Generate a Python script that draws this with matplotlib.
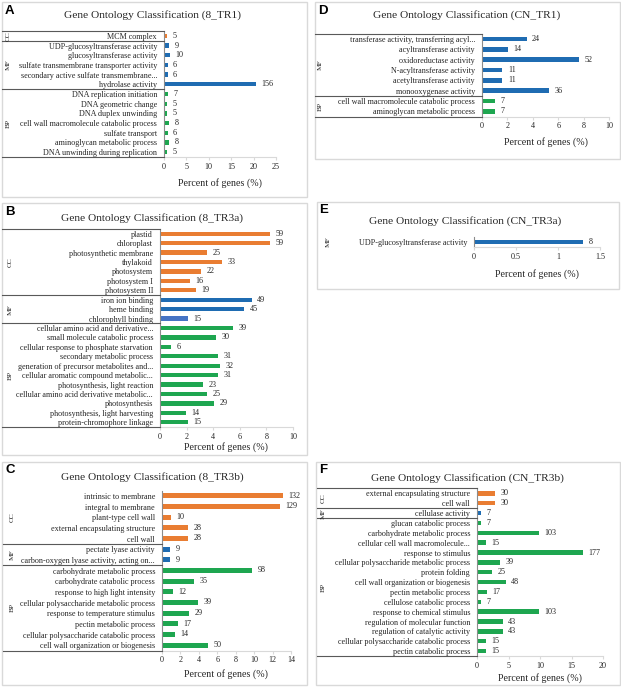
import numpy as np
import matplotlib
matplotlib.use("Agg")
import matplotlib.pyplot as plt
from matplotlib.patches import Rectangle
from matplotlib.lines import Line2D
from matplotlib import transforms

# ---------------- DATA ----------------
A_cats = ["MCM complex", "UDP-glucosyltransferase activity", "glucosyltransferase activity",
          "sulfate transmembrane transporter activity", "secondary active sulfate transmembrane...",
          "hydrolase activity", "DNA replication initiation", "DNA geometric change",
          "DNA duplex unwinding", "cell wall macromolecule catabolic process", "sulfate transport",
          "aminoglycan metabolic process", "DNA unwinding during replication"]
A_vals = [0.66, 1.18, 1.31, 0.79, 0.79, 20.5, 0.92, 0.66, 0.66, 1.05, 0.79, 1.05, 0.66]
A_counts = [5, 9, 10, 6, 6, 156, 7, 5, 5, 8, 6, 8, 5]
A_groups = [("CC", 1), ("MF", 5), ("BP", 7)]

B_cats = ["plastid", "chloroplast", "photosynthetic membrane", "thylakoid", "photosystem",
          "photosystem I", "photosystem II", "iron ion binding", "heme binding", "chlorophyll binding",
          "cellular amino acid and derivative...", "small molecule catabolic process",
          "cellular response to phosphate starvation", "secondary metabolic process",
          "generation of precursor metabolites and...", "cellular aromatic compound metabolic...",
          "photosynthesis, light reaction", "cellular amino acid derivative metabolic...",
          "photosynthesis", "photosynthesis, light harvesting", "protein-chromophore linkage"]
B_vals = [8.30, 8.30, 3.52, 4.64, 3.09, 2.25, 2.67, 6.89, 6.33, 2.11, 5.49, 4.22, 0.84, 4.36,
          4.50, 4.36, 3.23, 3.52, 4.08, 1.97, 2.11]
B_counts = [59, 59, 25, 33, 22, 16, 19, 49, 45, 15, 39, 30, 6, 31, 32, 31, 23, 25, 29, 14, 15]
B_groups = [("CC", 7), ("MF", 3), ("BP", 11)]

C_cats = ["intrinsic to membrane", "integral to membrane", "plant-type cell wall",
          "external encapsulating structure", "cell wall", "pectate lyase activity",
          "carbon-oxygen lyase activity, acting on...", "carbohydrate metabolic process",
          "carbohydrate catabolic process", "response to high light intensity",
          "cellular polysaccharide metabolic process", "response to temperature stimulus",
          "pectin metabolic process", "cellular polysaccharide catabolic process",
          "cell wall organization or biogenesis"]
C_vals = [13.1, 12.8, 1.0, 2.79, 2.79, 0.9, 0.9, 9.75, 3.48, 1.19, 3.88, 2.89, 1.69, 1.39, 4.98]
C_counts = [132, 129, 10, 28, 28, 9, 9, 98, 35, 12, 39, 29, 17, 14, 50]
C_groups = [("CC", 5), ("MF", 2), ("BP", 8)]

D_cats = ["transferase activity, transferring acyl...", "acyltransferase activity",
          "oxidoreductase activity", "N-acyltransferase activity", "acetyltransferase activity",
          "monooxygenase activity", "cell wall macromolecule catabolic process",
          "aminoglycan metabolic process"]
D_vals = [3.51, 2.05, 7.60, 1.61, 1.61, 5.26, 1.02, 1.02]
D_counts = [24, 14, 52, 11, 11, 36, 7, 7]
D_groups = [("MF", 6), ("BP", 2)]

E_cats = ["UDP-glucosyltransferase activity"]
E_vals = [1.30]
E_counts = [8]
E_groups = [("MF", 1)]

F_cats = ["external encapsulating structure", "cell wall", "cellulase activity",
          "glucan catabolic process", "carbohydrate metabolic process",
          "cellular cell wall macromolecule...", "response to stimulus",
          "cellular polysaccharide metabolic process", "protein folding",
          "cell wall organization or biogenesis", "pectin metabolic process",
          "cellulose catabolic process", "response to chemical stimulus",
          "regulation of molecular function", "regulation of catalytic activity",
          "cellular polysaccharide catabolic process", "pectin catabolic process"]
F_vals = [2.85, 2.85, 0.66, 0.66, 9.78, 1.42, 16.8, 3.70, 2.37, 4.56, 1.61, 0.66, 9.78,
          4.08, 4.08, 1.42, 1.42]
F_counts = [30, 30, 7, 7, 103, 15, 177, 39, 25, 48, 17, 7, 103, 43, 43, 15, 15]
F_groups = [("CC", 2), ("MF", 1), ("BP", 14)]

# ---------------- STYLE ----------------
GCOL = {"CC": "#E97D32", "MF": "#1F6CB2", "BP": "#1EA650"}
SERIF = "Liberation Serif"
SANS = "Liberation Sans"
TXT = "#262626"
FS = 5.9

W, H = 621, 687
fig = plt.figure(figsize=(6.21, 6.87), dpi=100)


def fx(x):
    return x / W


def fy(y):
    return 1 - y / H


def panel(letter, title, box, axpx, cats, vals, counts, groups, xmax, xstep,
          titlexy, letterxy, xlab_y, gx, bl, top_line=True, brackets=True, special=None):
    bx0, by0, bx1, by1 = box
    fig.patches.append(Rectangle((fx(bx0), fy(by1)), fx(bx1) - fx(bx0), fy(by0) - fy(by1),
                                 transform=fig.transFigure, fill=False,
                                 edgecolor="#d9d9d9", lw=1.0))
    l, t, r, b = axpx
    ax = fig.add_axes([fx(l), fy(b), fx(r) - fx(l), fy(t) - fy(b)])
    ax.patch.set_alpha(0)
    n = len(cats)
    colors = []
    for g, k in groups:
        colors += [GCOL[g]] * k
    if special:
        for i, c in special.items():
            colors[i] = c
    ys = np.arange(n)
    ax.barh(ys, vals, height=0.45, color=colors)
    ax.set_ylim(n - 0.5, -0.5)
    ax.set_xlim(0, xmax)
    ax.set_yticks(ys)
    ax.set_yticklabels(cats, fontsize=FS, family=SERIF, color=TXT)
    ax.tick_params(axis="y", length=0, pad=5)
    xt = np.arange(0, xmax + xstep / 2, xstep)
    ax.set_xticks(xt)
    ax.set_xticklabels([f"{v:g}" for v in xt], fontsize=FS, family=SERIF, color=TXT)
    ax.tick_params(axis="x", length=2.5, pad=1.5, color="#d9d9d9", width=0.8)
    for y, v, c in zip(ys, vals, counts):
        ax.annotate(str(c), (v, y), xytext=(4, 0), textcoords="offset points",
                    va="center", ha="left", fontsize=FS, family=SERIF, color=TXT)
    ax.spines["top"].set_visible(False)
    ax.spines["right"].set_visible(False)
    ax.spines["left"].set_color("#8c8c8c")
    ax.spines["left"].set_linewidth(0.8)
    ax.spines["bottom"].set_color("#d9d9d9")
    ax.spines["bottom"].set_linewidth(0.8)

    trans = transforms.blended_transform_factory(fig.transFigure, ax.transData)
    bounds = [-0.5]
    s = -0.5
    for g, k in groups:
        s += k
        bounds.append(s)
    if brackets:
        lines = bounds if top_line else bounds[1:]
        for yb in lines:
            fig.add_artist(Line2D([fx(bl), fx(l)], [yb, yb], transform=trans,
                                  color="#595959", lw=0.8))
    for i, (g, k) in enumerate(groups):
        yc = (bounds[i] + bounds[i + 1]) / 2
        fig.text(fx(gx), yc, g, transform=trans, rotation=90, ha="center", va="center",
                 fontsize=5.3, family=SERIF, color=TXT)

    fig.text(fx(titlexy[0]), fy(titlexy[1]), title, ha="center", va="center",
             fontsize=8.2, family=SERIF, color=TXT)
    fig.text(fx(letterxy[0]), fy(letterxy[1]), letter, ha="left", va="center",
             fontsize=9.5, family=SANS, weight="bold", color="black")
    fig.text(fx((l + r) / 2), fy(xlab_y), "Percent of genes (%)", ha="center", va="center",
             fontsize=7.2, family=SERIF, color=TXT)
    return ax


panel("A", "Gene Ontology Classification (8_TR1)", (2, 2, 307, 197), (164, 31, 276, 157),
      A_cats, A_vals, A_counts, A_groups, 25, 5, (152, 15), (5, 11), 183, 8, 2)
panel("B", "Gene Ontology Classification (8_TR3a)", (2, 203, 307, 455), (160, 229, 293, 427),
      B_cats, B_vals, B_counts, B_groups, 10, 2, (152, 218), (5, 212), 447, 10, 2,
      special={9: "#4674C4"})
panel("C", "Gene Ontology Classification (8_TR3b)", (2, 462, 307, 685), (162, 490.5, 291, 650.5),
      C_cats, C_vals, C_counts, C_groups, 14, 2, (152, 477), (5, 470), 674, 12, 3,
      top_line=False)
panel("D", "Gene Ontology Classification (CN_TR1)", (315, 2, 620, 159), (482, 34, 609, 116.5),
      D_cats, D_vals, D_counts, D_groups, 10, 2, (467, 15), (318, 11), 142, 320, 315)
panel("E", "Gene Ontology Classification (CN_TR3a)", (317, 202, 619, 289), (474, 237, 600, 247),
      E_cats, E_vals, E_counts, E_groups, 1.5, 0.5, (465, 221), (319, 210), 274, 328, 317,
      brackets=False)
panel("F", "Gene Ontology Classification (CN_TR3b)", (316, 462, 620, 685), (477, 488.5, 603, 656),
      F_cats, F_vals, F_counts, F_groups, 20, 5, (467, 478), (319, 470), 678, 323, 317)

fig.savefig("out.png", dpi=100)
